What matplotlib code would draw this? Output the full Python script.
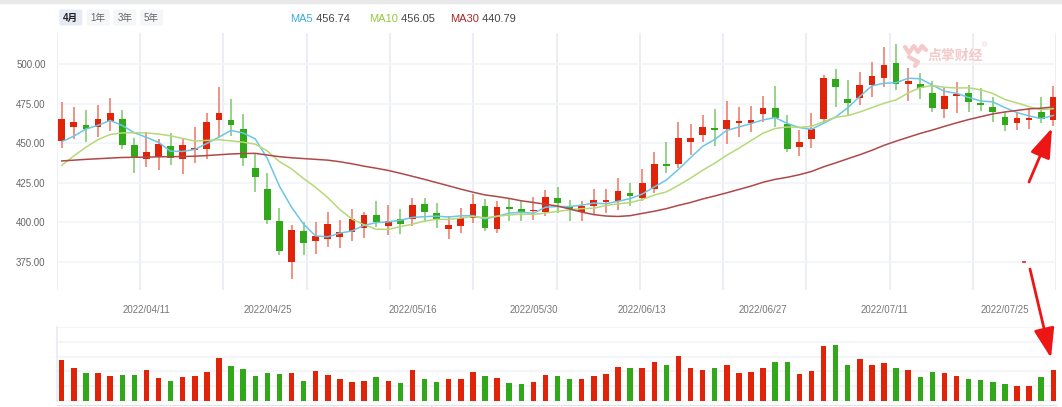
import numpy as np
import pandas as pd
import matplotlib
matplotlib.use('Agg')
import matplotlib.pyplot as plt
from matplotlib.patches import FancyBboxPatch, Rectangle

plt.rcParams['font.family'] = ['Liberation Sans', 'Noto Sans CJK SC', 'DejaVu Sans']

# trading days 2022/03/29 - 2022/07/29 (A-share holidays removed)
holidays = ['2022-04-04', '2022-04-05', '2022-05-02', '2022-05-03', '2022-05-04', '2022-06-03']
dates = [d.strftime('%Y/%m/%d') for d in pd.bdate_range('2022-03-29', '2022-07-29')
         if d.strftime('%Y-%m-%d') not in holidays]

opens = [451.4, 460.2, 461.3, 460.4, 464.2, 465.1, 449.1, 440.2, 441.5, 448.2,
         440.2, 445.9, 446.1, 464.8, 464.5, 459.0, 434.5, 421.1, 401.1, 374.8,
         394.8, 388.4, 389.3, 391.0, 394.1, 396.3, 404.7, 397.9, 402.1, 402.0,
         411.4, 405.8, 395.6, 397.9, 402.8, 410.4, 395.6, 409.7, 408.3, 407.2,
         406.8, 415.4, 409.9, 406.8, 410.2, 412.9, 413.5, 418.6, 415.2, 420.9,
         437.1, 436.7, 450.8, 455.4, 459.6, 458.8, 462.9, 462.9, 468.2, 472.0,
         461.9, 447.8, 452.7, 465.3, 490.3, 478.1, 478.3, 486.7, 491.4, 500.4,
         487.2, 487.6, 481.5, 471.4, 479.8, 481.5, 475.4, 473.0, 466.7, 463.0,
         464.6, 469.7, 464.6]
highs = [475.8, 472.7, 470.8, 474.1, 478.5, 470.8, 453.5, 457.1, 452.5, 456.2,
         453.1, 460.4, 469.3, 485.7, 477.9, 468.6, 443.6, 431.0, 408.9, 398.4,
         400.4, 400.1, 406.8, 401.5, 408.3, 406.8, 413.3, 411.0, 408.3, 415.6,
         415.2, 412.1, 404.0, 408.9, 417.9, 414.6, 413.5, 415.2, 413.5, 416.2,
         420.5, 422.5, 414.1, 413.7, 420.9, 420.9, 427.8, 424.7, 433.5, 444.6,
         450.6, 463.6, 461.9, 467.8, 471.6, 476.6, 472.7, 473.5, 480.0, 486.1,
         467.8, 458.3, 469.3, 493.1, 496.8, 489.9, 495.1, 501.5, 510.5, 512.6,
         497.3, 494.1, 489.5, 484.7, 488.8, 486.7, 485.0, 479.4, 469.9, 469.9,
         472.0, 479.0, 486.1]
lows = [446.8, 452.7, 450.8, 454.1, 457.7, 446.1, 431.4, 434.8, 433.1, 436.4,
        430.8, 437.3, 440.2, 454.1, 454.5, 435.6, 419.0, 399.0, 379.4, 364.1,
        379.4, 379.9, 384.7, 383.7, 388.3, 390.0, 397.3, 392.0, 392.5, 397.7,
        400.4, 396.3, 389.3, 393.5, 399.8, 394.6, 393.5, 400.9, 400.9, 401.5,
        404.0, 405.7, 400.9, 400.9, 404.7, 406.1, 407.8, 410.4, 413.5, 418.4,
        431.4, 434.5, 442.6, 451.0, 448.2, 449.3, 454.1, 457.3, 463.6, 460.0,
        444.6, 441.9, 447.2, 463.0, 473.0, 467.8, 474.1, 479.4, 485.7, 483.6,
        476.8, 477.7, 469.9, 465.7, 469.3, 469.9, 470.3, 463.6, 457.9, 458.3,
        458.8, 462.6, 460.9]
closes = [465.1, 463.6, 459.2, 465.1, 468.9, 449.1, 440.8, 444.6, 449.3, 440.7,
          448.7, 447.0, 463.6, 469.3, 461.7, 440.7, 428.5, 401.5, 382.1, 395.2,
          386.8, 391.6, 398.8, 393.7, 402.0, 404.5, 400.3, 401.1, 399.0, 410.8,
          406.8, 402.1, 398.2, 402.8, 411.4, 396.7, 409.9, 408.5, 405.7, 407.8,
          416.0, 412.1, 408.3, 410.4, 414.0, 414.1, 419.8, 416.7, 424.7, 436.7,
          435.8, 453.5, 453.5, 460.4, 458.5, 464.6, 464.0, 464.6, 472.0, 465.7,
          446.1, 451.0, 459.0, 491.0, 485.7, 475.2, 486.7, 492.4, 499.4, 487.4,
          489.3, 485.0, 472.4, 479.8, 481.1, 476.2, 473.9, 469.5, 461.5, 465.7,
          465.7, 465.3, 479.4]
volumes = [41.0, 32.7, 28.3, 27.7, 25.3, 26.0, 26.0, 30.7, 23.0, 20.3,
           24.0, 24.7, 29.3, 43.3, 35.0, 32.0, 24.7, 27.7, 27.0, 28.3,
           20.3, 30.0, 26.0, 21.7, 18.7, 19.7, 24.0, 20.3, 18.0, 30.7,
           22.3, 18.7, 22.3, 22.3, 29.3, 24.7, 23.0, 18.0, 17.0, 18.7,
           26.0, 25.0, 21.7, 22.3, 24.7, 26.7, 34.0, 32.7, 32.7, 38.7,
           35.7, 44.7, 32.7, 31.0, 32.7, 36.3, 27.7, 29.3, 32.7, 38.7,
           38.7, 26.7, 30.3, 55.0, 56.3, 36.3, 42.0, 35.7, 38.0, 33.3,
           30.7, 23.7, 29.0, 28.0, 25.0, 22.3, 21.0, 19.3, 17.0, 15.0,
           15.0, 23.7, 30.7]

# moving-average values before enough closes exist in the window
ma5_lead = [451.0, 454.5, 459.0, 461.3]
ma10_lead = [436.0, 442.0, 447.5, 452.3, 455.5, 456.5, 456.6, 456.5, 455.8]
ma30_lead = [438.8, 439.3, 439.8, 440.2, 440.6, 441.0, 441.1, 441.2, 441.4, 441.5,
             441.6, 441.8, 442.2, 442.7, 443.2, 443.5, 443.6, 442.5, 441.5, 440.8,
             440.3, 439.8, 439.3, 438.3, 437.0, 435.5, 434.2, 432.8, 431.0]

tick_dates = ['2022/04/11', '2022/04/25', '2022/05/16', '2022/05/30',
              '2022/06/13', '2022/06/27', '2022/07/11', '2022/07/25']
price_ticks = [375, 400, 425, 450, 475, 500]
tabs = ['4月', '1年', '3年', '5年']
legend_names = ['MA5', 'MA10', 'MA30']
legend_values = [456.74, 456.05, 440.79]

RED = '#e0240a'
GREEN = '#31a81a'
RED_WICK = '#ee7565'
GREEN_WICK = '#7cc66a'
MA_COLORS = ['#6cc6e6', '#b6d878', '#b04848']
LEGEND_COLORS = ['#3aaed8', '#96c83e', '#a82828']
GRID_V = '#e9edf4'
GRID_H = '#f2f4f7'


def moving_avg(lead, n):
    s = pd.Series(closes).rolling(n).mean().to_numpy()
    s[:len(lead)] = lead
    return s


W, H = 1062, 407
fig = plt.figure(figsize=(W / 100, H / 100), dpi=100)
fig.patch.set_facecolor('white')
fig.patches.append(Rectangle((0, 1 - 3 / H), 1, 3 / H, transform=fig.transFigure,
                             color='#e9e9e9', zorder=0))

x = np.arange(len(closes))
up = np.array(closes) >= np.array(opens)
xlim = (-0.42, 82.25)

# --- price panel ---
ax = fig.add_axes([56.7 / W, 117 / H, 999.6 / W, 257 / H])
ax.set_xlim(*xlim)
ax.set_ylim(357.3, 519.6)
for k in range(13):
    ax.axvline(xlim[0] + k * (xlim[1] - xlim[0]) / 12, color=GRID_V, lw=1.3, zorder=0)
ax.set_yticks(price_ticks)
ax.set_yticklabels([f'{v:.2f}' for v in price_ticks])
ax.grid(axis='y', color=GRID_H, lw=1.2, zorder=0)
ax.tick_params(axis='y', length=0, pad=8, labelsize=7, labelcolor='#666666')
ax.set_xticks([dates.index(d) for d in tick_dates])
ax.set_xticklabels(tick_dates)
ax.tick_params(axis='x', length=0, pad=11, labelsize=7, labelcolor='#777777')
for s in ax.spines.values():
    s.set_visible(False)

body = np.maximum(np.abs(np.array(closes) - np.array(opens)), 0.8)
bottom = np.minimum(opens, closes)
ax.vlines(x, lows, highs, colors=[RED_WICK if u else GREEN_WICK for u in up], lw=1.1, zorder=2)
ax.bar(x, body, bottom=bottom, width=0.56, color=[RED if u else GREEN for u in up], zorder=3)

for lead, n, c in zip([ma5_lead, ma10_lead, ma30_lead], [5, 10, 30], MA_COLORS):
    ax.plot(x, moving_avg(lead, n), color=c, lw=1.1, zorder=4)

# --- volume panel ---
axv = fig.add_axes([56.7 / W, 6 / H, 999.6 / W, 74 / H])
axv.set_xlim(*xlim)
axv.set_ylim(0, 74)
axv.set_yticks(np.linspace(0, 74, 6))
axv.set_yticklabels([])
axv.grid(axis='y', color=GRID_H, lw=1.2, zorder=0)
axv.tick_params(axis='y', length=0)
axv.bar(x, volumes, width=0.45, color=[RED if u else GREEN for u in up], zorder=3)
for s in ['top', 'right']:
    axv.spines[s].set_visible(False)
axv.spines['left'].set_color(GRID_V)
axv.spines['left'].set_linewidth(1.3)
axv.spines['bottom'].set_color('#dfe4eb')
axv.spines['bottom'].set_position(('outward', 3))
axv.set_xticks([6.5, 14.5, 22.5, 30.5, 39.5, 47.5, 56.5, 64.5, 72.5, 80.5])
axv.set_xticklabels([])
axv.tick_params(axis='x', length=3, color='#dfe4eb')

# --- overlay: tabs, legend, watermark, arrows ---
ov = fig.add_axes([0, 0, 1, 1])
ov.set_xlim(0, W)
ov.set_ylim(H, 0)
ov.axis('off')
ov.patch.set_alpha(0)

tab_x = [59.3, 86.7, 113.3, 140.0]
for i, (t, tx) in enumerate(zip(tabs, tab_x)):
    ov.add_patch(FancyBboxPatch((tx, 9.5), 23, 16, boxstyle='round,pad=0,rounding_size=2',
                                fc='#e5eaf4' if i == 0 else '#f5f6f8', ec='none'))
    ov.text(tx + 11.5, 17.8, t, ha='center', va='center', fontsize=7,
            color='#222222' if i == 0 else '#666666', fontweight='bold' if i == 0 else 'normal')

leg_x = [290, 369, 450]
for name, val, c, lx in zip(legend_names, legend_values, LEGEND_COLORS, leg_x):
    t = ov.text(lx, 18.5, name, ha='left', va='center', fontsize=8, color=c)
    ov.annotate(f' {val:.2f}', xy=(1, 0.5), xycoords=t, ha='left', va='center',
                fontsize=8, color='#444444')

# watermark
pink = '#f4c9c9'
ov.plot([905, 909, 913], [47, 53, 47], color=pink, lw=3, solid_capstyle='round')
ov.plot([914, 918, 922, 926], [46, 52, 46, 50], color=pink, lw=3, solid_capstyle='round')
ov.plot([909, 918, 915], [57, 62, 66], color=pink, lw=3, solid_capstyle='round')
ov.text(955, 56, '点掌财经', ha='center', va='center', fontsize=10, color=pink,
        fontweight='bold', family=['Noto Sans CJK SC'])
ov.text(985, 46, '®', ha='center', va='center', fontsize=5, color=pink)

# red annotation arrows
arrow = dict(arrowstyle='-|>,head_length=1.3,head_width=0.45', color='#ee1515', lw=2,
             mutation_scale=14, shrinkA=0, shrinkB=0)
ov.annotate('', xy=(1052, 128), xytext=(1029, 182), arrowprops=arrow)
ov.annotate('', xy=(1051, 358), xytext=(1030, 269), arrowprops=arrow)
ov.plot([1023, 1025], [262, 262], color='#ee1515', lw=1.2)

fig.savefig('out.png', dpi=100)
